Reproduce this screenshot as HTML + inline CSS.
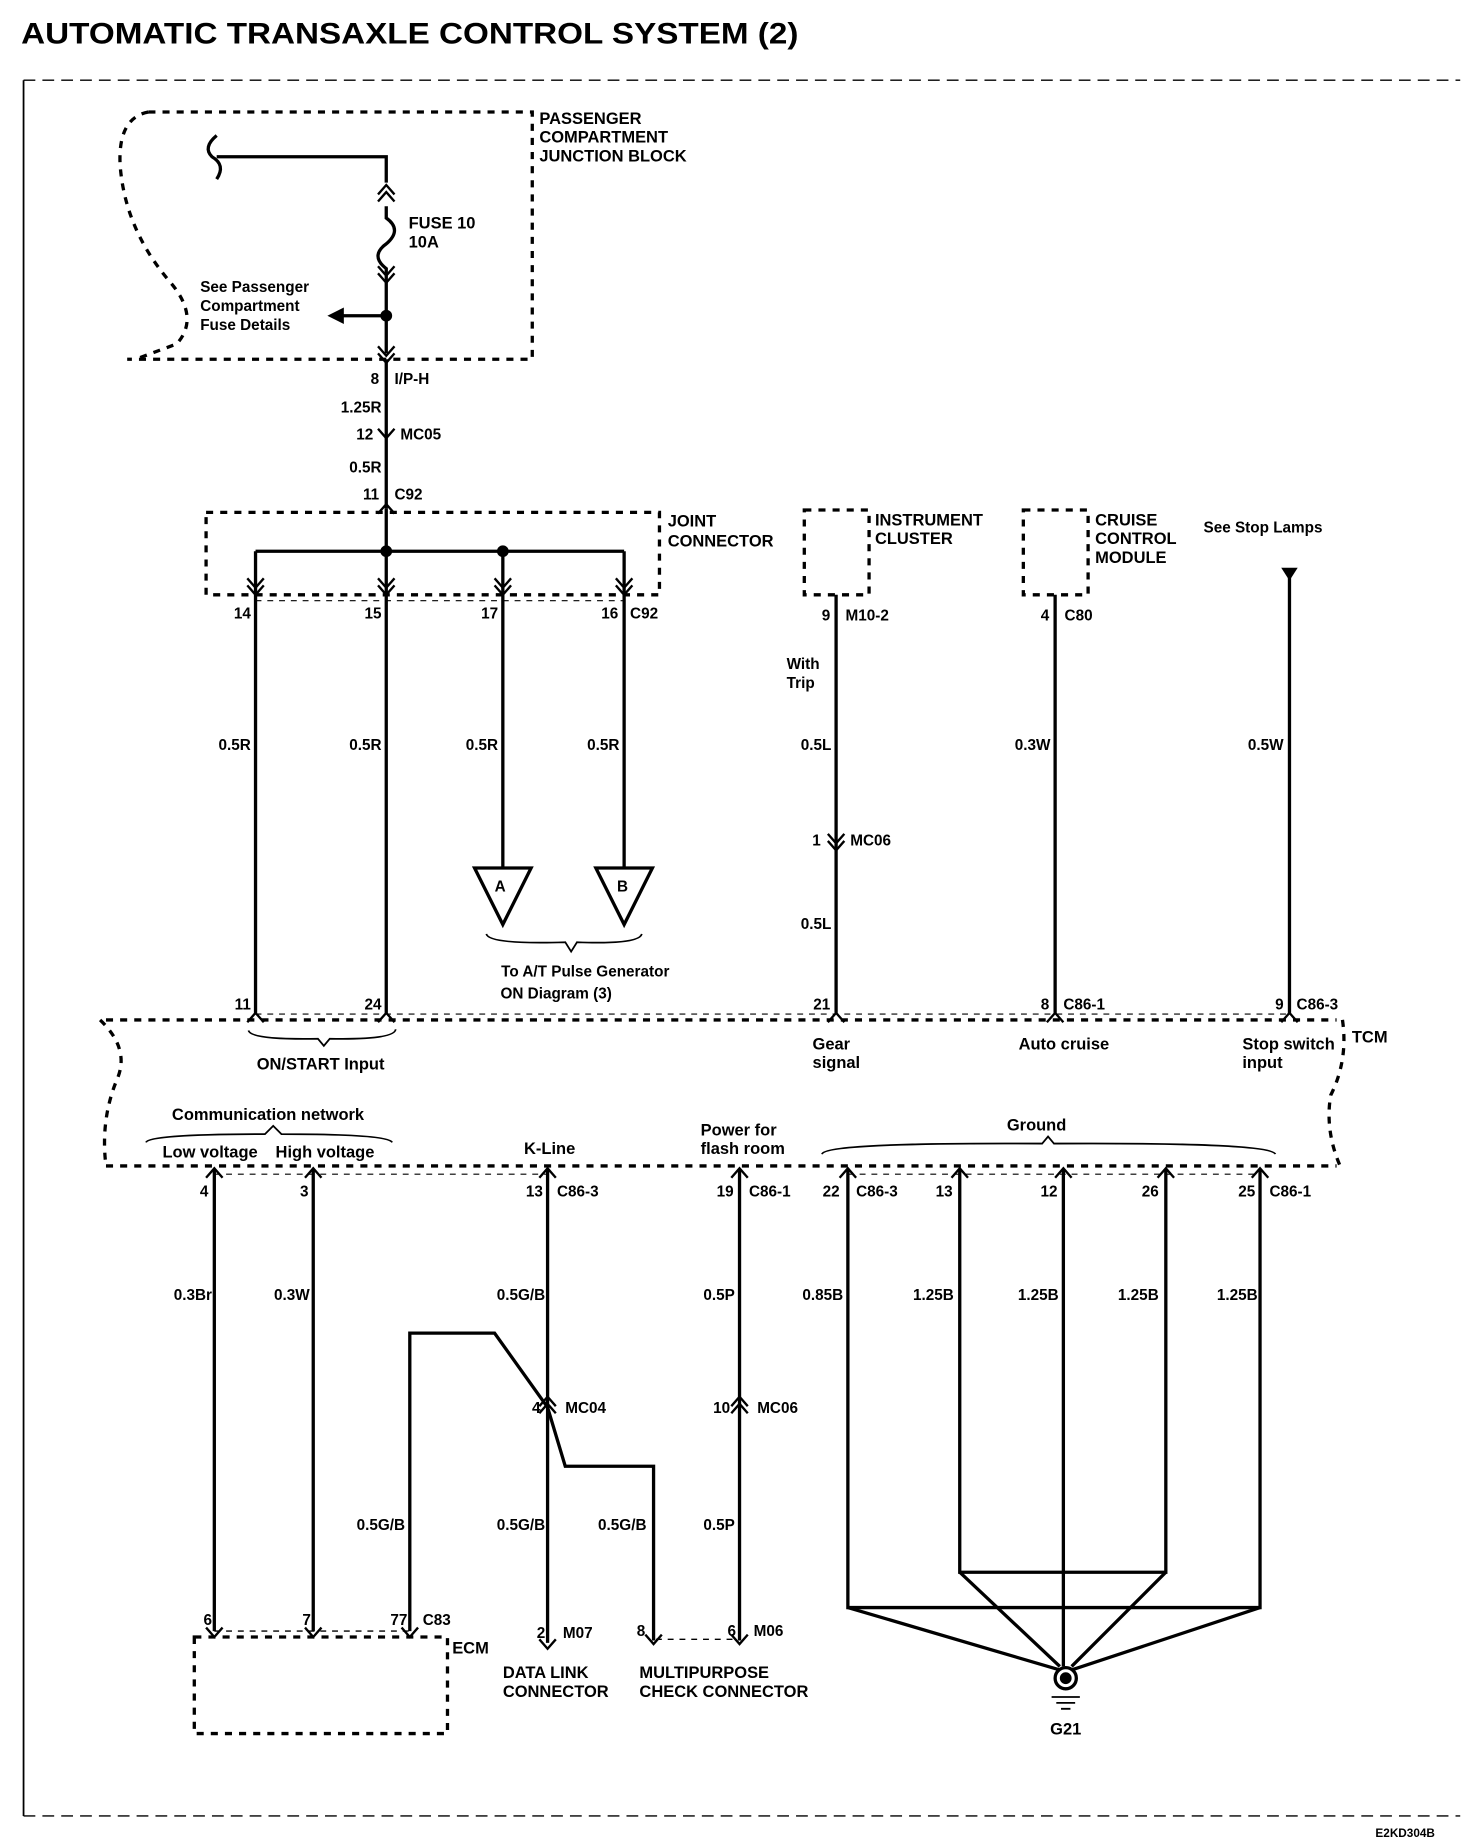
<!DOCTYPE html>
<html><head><style>
html,body{margin:0;padding:0;background:#fff;}
svg{display:block}
text{font-family:"Liberation Sans",Arial,sans-serif;font-weight:bold;fill:#000}
</style></head><body>
<svg width="1472" height="1842" viewBox="0 0 1250 1564" xmlns="http://www.w3.org/2000/svg">
<defs>
<g id="cd"><path d="M-7,-8 L0,0 L7,-8" fill="none" stroke="#000" stroke-width="2"/></g>
<g id="cdd"><path d="M-7,-14 L0,-6 L7,-14 M-7,-8 L0,0 L7,-8" fill="none" stroke="#000" stroke-width="2"/></g>
<g id="cu"><path d="M-7,8 L0,0 L7,8" fill="none" stroke="#000" stroke-width="2"/></g>
<g id="cuu"><path d="M-7,14 L0,6 L7,14 M-7,8 L0,0 L7,8" fill="none" stroke="#000" stroke-width="2"/></g>
</defs>
<rect width="1250" height="1564" fill="#fff"/>
<text x="18" y="37" font-size="25" textLength="660" lengthAdjust="spacingAndGlyphs">AUTOMATIC TRANSAXLE CONTROL SYSTEM (2)</text>
<g stroke="#000" fill="none">
<line x1="20" y1="68" x2="1240" y2="68" stroke-width="1.2" stroke-dasharray="10 6"/>
<line x1="20" y1="68" x2="20" y2="1542" stroke-width="1.5"/>
<line x1="20" y1="1542" x2="1240" y2="1542" stroke-width="1.2" stroke-dasharray="10 6"/>
</g>
<text x="1168" y="1560" font-size="10" font-weight="normal">E2KD304B</text>

<g stroke="#000" fill="none" stroke-width="2.8">
<path d="M126,95 L452,95 L452,305 L108,305" stroke-dasharray="6 6"/>
<path d="M126,95 Q100,100 102,140 Q106,195 145,240 Q170,270 150,292 L115,305" stroke-dasharray="6 6"/>
<path d="M184,115 Q172,125 180,133 Q192,140 184,152"/>
<path d="M184,133 L328,133 L328,155"/>
<path d="M328,175 L328,185 Q342,195 328,207 Q314,217 328,228 L328,300"/>
<path d="M328,268 L290,268"/>
<line x1="328" y1="305" x2="328" y2="432"/>
</g>
<use href="#cuu" x="328" y="157"/>
<use href="#cdd" x="328" y="240"/>
<use href="#cdd" x="328" y="308"/>
<use href="#cd" x="328" y="372"/>
<use href="#cu" x="328" y="428"/>
<circle cx="328" cy="268" r="5"/>
<path d="M278,268 L292,261 L292,275Z"/>
<text x="458" y="105" font-size="14">PASSENGER</text>
<text x="458" y="121" font-size="14">COMPARTMENT</text>
<text x="458" y="137" font-size="14">JUNCTION BLOCK</text>
<text x="347" y="194" font-size="14">FUSE 10</text>
<text x="347" y="210" font-size="14">10A</text>
<text x="170" y="248" font-size="13">See Passenger</text>
<text x="170" y="264" font-size="13">Compartment</text>
<text x="170" y="280" font-size="13">Fuse Details</text>
<g font-size="13" font-weight="normal">
<text x="322" y="326" text-anchor="end">8</text>
<text x="324" y="350" text-anchor="end">1.25R</text>
<text x="317" y="373" text-anchor="end">12</text>
<text x="324" y="401" text-anchor="end">0.5R</text>
<text x="322" y="424" text-anchor="end">11</text>
</g>
<text x="335" y="326" font-size="13">I/P-H</text>
<text x="340" y="373" font-size="13">MC05</text>
<text x="335" y="424" font-size="13">C92</text>

<g stroke="#000" fill="none" stroke-width="2.8">
<rect x="175" y="435" width="385" height="70" stroke-dasharray="6 6"/>
<line x1="217" y1="468" x2="530" y2="468"/>
<line x1="217" y1="468" x2="217" y2="860"/>
<line x1="328" y1="432" x2="328" y2="860"/>
<line x1="427" y1="468" x2="427" y2="737"/>
<line x1="530" y1="468" x2="530" y2="737"/>
<path d="M403,737 L451,737 L427,785Z"/>
<path d="M506,737 L554,737 L530,785Z"/>
<path d="M413,793 Q415,802 480,800 L485,808 L490,800 Q543,802 545,793" stroke-width="1.5"/>
<line x1="217" y1="510" x2="530" y2="510" stroke-width="1" stroke-dasharray="5 5"/>
</g>
<circle cx="328" cy="468" r="5"/><circle cx="427" cy="468" r="5"/>
<use href="#cdd" x="217" y="505"/><use href="#cdd" x="328" y="505"/><use href="#cdd" x="427" y="505"/><use href="#cdd" x="530" y="505"/>
<text x="567" y="447" font-size="14">JOINT</text>
<text x="567" y="464" font-size="14">CONNECTOR</text>
<text x="420" y="757" font-size="13">A</text><text x="524" y="757" font-size="13">B</text>
<g font-size="13" font-weight="normal">
<text x="213" y="525" text-anchor="end">14</text><text x="324" y="525" text-anchor="end">15</text>
<text x="423" y="525" text-anchor="end">17</text><text x="525" y="525" text-anchor="end">16</text>
<text x="213" y="637" text-anchor="end">0.5R</text><text x="324" y="637" text-anchor="end">0.5R</text>
<text x="423" y="637" text-anchor="end">0.5R</text><text x="526" y="637" text-anchor="end">0.5R</text>
<text x="497" y="829" text-anchor="middle">To A/T Pulse Generator</text>
<text x="425" y="848">ON Diagram (3)</text>
</g>
<text x="535" y="525" font-size="13">C92</text>

<g stroke="#000" fill="none" stroke-width="2.8">
<rect x="683" y="433" width="55" height="72" stroke-dasharray="6 6"/>
<rect x="869" y="433" width="55" height="72" stroke-dasharray="6 6"/>
<line x1="710" y1="505" x2="710" y2="860"/>
<line x1="896" y1="505" x2="896" y2="860"/>
<line x1="1095" y1="488" x2="1095" y2="860"/>
</g>
<path d="M1088,482 L1102,482 L1095,493Z"/>
<use href="#cdd" x="710" y="722"/>
<text x="743" y="446" font-size="14">INSTRUMENT</text><text x="743" y="462" font-size="14">CLUSTER</text>
<text x="930" y="446" font-size="14">CRUISE</text><text x="930" y="462" font-size="14">CONTROL</text><text x="930" y="478" font-size="14">MODULE</text>
<text x="1022" y="452" font-size="13" font-weight="normal">See Stop Lamps</text>
<text x="718" y="527" font-size="13">M10-2</text><text x="904" y="527" font-size="13">C80</text>
<text x="668" y="568" font-size="13">With</text><text x="668" y="584" font-size="13">Trip</text>
<text x="722" y="718" font-size="13">MC06</text>
<g font-size="13" font-weight="normal">
<text x="705" y="527" text-anchor="end">9</text><text x="891" y="527" text-anchor="end">4</text>
<text x="706" y="637" text-anchor="end">0.5L</text><text x="892" y="637" text-anchor="end">0.3W</text><text x="1090" y="637" text-anchor="end">0.5W</text>
<text x="697" y="718" text-anchor="end">1</text>
<text x="706" y="789" text-anchor="end">0.5L</text>
<text x="213" y="857" text-anchor="end">11</text><text x="324" y="857" text-anchor="end">24</text>
<text x="705" y="857" text-anchor="end">21</text><text x="891" y="857" text-anchor="end">8</text><text x="1090" y="857" text-anchor="end">9</text>
</g>
<text x="903" y="857" font-size="13">C86-1</text><text x="1101" y="857" font-size="13">C86-3</text>

<g stroke="#000" fill="none" stroke-width="2.8">
<path d="M90,866 L1135,866" stroke-dasharray="6 6"/>
<path d="M90,990 L1135,990" stroke-dasharray="6 6"/>
<path d="M85,866 Q110,890 100,915 Q85,950 90,990" stroke-dasharray="6 6"/>
<path d="M1140,866 Q1145,900 1130,930 Q1125,960 1138,990" stroke-dasharray="6 6"/>
<line x1="217" y1="861" x2="1095" y2="861" stroke-width="1" stroke-dasharray="5 5"/>
<path d="M211,875 Q213,883 270,882 L275,888 L280,882 Q335,883 336,874" stroke-width="1.5"/>
<path d="M124,970 Q126,963 225,963 L232,956 L239,963 Q330,963 333,970" stroke-width="1.5"/>
<path d="M698,980 Q700,970 885,971 L890,965 L895,971 Q1080,970 1083,980" stroke-width="1.5"/>
<line x1="182" y1="997" x2="465" y2="997" stroke-width="1" stroke-dasharray="5 5"/>
<line x1="720" y1="997" x2="1070" y2="997" stroke-width="1" stroke-dasharray="5 5"/>
</g>
<use href="#cu" x="217" y="860"/><use href="#cu" x="328" y="860"/><use href="#cu" x="710" y="860"/><use href="#cu" x="896" y="860"/><use href="#cu" x="1095" y="860"/>
<text x="218" y="908" font-size="14">ON/START Input</text>
<text x="690" y="891" font-size="14">Gear</text><text x="690" y="907" font-size="14">signal</text>
<text x="865" y="891" font-size="14">Auto cruise</text>
<text x="1055" y="891" font-size="14">Stop switch</text><text x="1055" y="907" font-size="14">input</text>
<text x="1148" y="885" font-size="14">TCM</text>
<text x="146" y="951" font-size="14">Communication network</text>
<text x="138" y="983" font-size="14">Low voltage</text><text x="234" y="983" font-size="14">High voltage</text>
<text x="445" y="980" font-size="14">K-Line</text>
<text x="595" y="964" font-size="14">Power for</text><text x="595" y="980" font-size="14">flash room</text>
<text x="855" y="960" font-size="14">Ground</text>

<g stroke="#000" fill="none" stroke-width="2.8">
<line x1="182" y1="993" x2="182" y2="1385"/>
<line x1="266" y1="993" x2="266" y2="1385"/>
<line x1="465" y1="993" x2="465" y2="1395"/>
<path d="M348,1385 L348,1132 L420,1132 L465,1195"/>
<path d="M465,1195 L480,1245 L555,1245 L555,1393"/>
<line x1="628" y1="993" x2="628" y2="1393"/>
<line x1="557" y1="1392" x2="628" y2="1392" stroke-width="1.2" stroke-dasharray="5 5"/>
<line x1="182" y1="1385" x2="348" y2="1385" stroke-width="1.2" stroke-dasharray="5 5"/>
<rect x="165" y="1390" width="215" height="82" stroke-dasharray="6 6"/>
<path d="M720,993 L720,1365 L1070,1365 L1070,993"/>
<path d="M815,993 L815,1335 L990,1335 L990,993"/>
<line x1="903" y1="993" x2="903" y2="1415"/>
<path d="M720,1365 L900,1418 M1070,1365 L910,1418 M815,1335 L900,1415 M990,1335 L910,1415"/>
<circle cx="905" cy="1425" r="9"/>
<path d="M893,1441 L917,1441 M897,1446 L913,1446 M901,1451 L909,1451" stroke-width="1.5"/>
</g>
<circle cx="905" cy="1425" r="5"/>
<g>
<use href="#cu" x="182" y="992"/><use href="#cu" x="266" y="992"/><use href="#cu" x="465" y="992"/><use href="#cu" x="628" y="992"/>
<use href="#cu" x="720" y="992"/><use href="#cu" x="815" y="992"/><use href="#cu" x="903" y="992"/><use href="#cu" x="990" y="992"/><use href="#cu" x="1070" y="992"/>
<use href="#cuu" x="465" y="1186"/><use href="#cuu" x="628" y="1186"/>
<use href="#cd" x="182" y="1390"/><use href="#cd" x="266" y="1390"/><use href="#cd" x="348" y="1390"/>
<use href="#cd" x="465" y="1400"/><use href="#cd" x="555" y="1396"/><use href="#cd" x="628" y="1396"/>
</g>
<g font-size="13" font-weight="normal">
<text x="177" y="1016" text-anchor="end">4</text><text x="262" y="1016" text-anchor="end">3</text>
<text x="461" y="1016" text-anchor="end">13</text><text x="623" y="1016" text-anchor="end">19</text>
<text x="713" y="1016" text-anchor="end">22</text><text x="809" y="1016" text-anchor="end">13</text>
<text x="898" y="1016" text-anchor="end">12</text><text x="984" y="1016" text-anchor="end">26</text><text x="1066" y="1016" text-anchor="end">25</text>
<text x="180" y="1104" text-anchor="end">0.3Br</text><text x="263" y="1104" text-anchor="end">0.3W</text>
<text x="463" y="1104" text-anchor="end">0.5G/B</text><text x="624" y="1104" text-anchor="end">0.5P</text>
<text x="716" y="1104" text-anchor="end">0.85B</text><text x="810" y="1104" text-anchor="end">1.25B</text>
<text x="899" y="1104" text-anchor="end">1.25B</text><text x="984" y="1104" text-anchor="end">1.25B</text><text x="1068" y="1104" text-anchor="end">1.25B</text>
<text x="459" y="1200" text-anchor="end">4</text><text x="620" y="1200" text-anchor="end">10</text>
<text x="344" y="1299" text-anchor="end">0.5G/B</text><text x="463" y="1299" text-anchor="end">0.5G/B</text>
<text x="549" y="1299" text-anchor="end">0.5G/B</text><text x="624" y="1299" text-anchor="end">0.5P</text>
<text x="180" y="1380" text-anchor="end">6</text><text x="264" y="1380" text-anchor="end">7</text><text x="346" y="1380" text-anchor="end">77</text>
<text x="463" y="1391" text-anchor="end">2</text><text x="548" y="1389" text-anchor="end">8</text><text x="625" y="1389" text-anchor="end">6</text>
</g>
<g font-size="13">
<text x="473" y="1016">C86-3</text><text x="636" y="1016">C86-1</text><text x="727" y="1016">C86-3</text><text x="1078" y="1016">C86-1</text>
<text x="480" y="1200">MC04</text><text x="643" y="1200">MC06</text>
<text x="359" y="1380">C83</text><text x="478" y="1391">M07</text><text x="640" y="1389">M06</text>
</g>
<text x="384" y="1404" font-size="14">ECM</text>
<text x="427" y="1425" font-size="14">DATA LINK</text><text x="427" y="1441" font-size="14">CONNECTOR</text>
<text x="543" y="1425" font-size="14">MULTIPURPOSE</text><text x="543" y="1441" font-size="14">CHECK CONNECTOR</text>
<text x="905" y="1473" font-size="14" text-anchor="middle">G21</text>
</svg>
</body></html>
